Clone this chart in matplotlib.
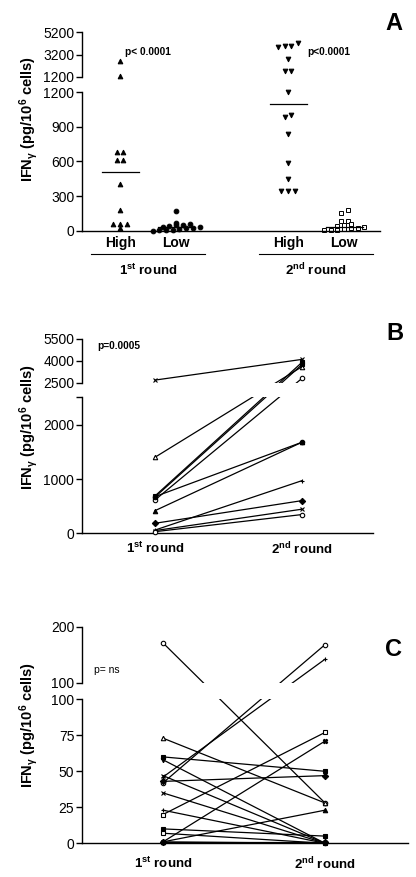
import matplotlib
matplotlib.use("Agg")
import matplotlib.pyplot as plt
import matplotlib.transforms as mtransforms
import numpy as np

plt.rcParams['font.family'] = ['Liberation Sans', 'DejaVu Sans']
plt.rcParams['mathtext.fontset'] = 'custom'
plt.rcParams['mathtext.rm'] = 'Liberation Sans:bold'
plt.rcParams['mathtext.it'] = 'Liberation Sans:bold:italic'
plt.rcParams['mathtext.default'] = 'rm'

# Panel A - IFNg (pg/10^6 cells), dot plot per group
high_1st = [2600, 1300, 680, 680, 610, 610, 400, 180, 58, 58, 58, 20]
low_1st = [170, 70, 60, 50, 45, 40, 35, 30, 25, 20, 15, 10, 5, 5, 0]
high_2nd = [4200, 4000, 3950, 3900, 2800, 1700, 1700, 1200, 1000, 980, 840, 590, 450, 345, 345, 345]
low_2nd = [175, 155, 85, 80, 60, 45, 40, 30, 25, 20, 15, 10, 10, 5]
groups_a = ['High', 'Low', 'High', 'Low']
rounds = ['1$^{st}$ round', '2$^{nd}$ round']

# Panel B - paired samples, 1st round -> 2nd round
b_1st = [2680, 1404, 690, 670, 616, 677, 418, 185, 60, 50, 30]
b_2nd = [4100, 3600, 3900, 3750, 2800, 1681, 1681, 603, 972, 445, 346]

# Panel C - paired samples, 1st round -> 2nd round
c_1st = [171, 46, 42, 43, 73, 60, 58, 47, 35, 23, 20, 1, 1, 10, 7, 1, 1]
c_2nd = [28, 142, 168, 47, 28, 50, 0, 0, 0, 0, 77, 71, 23, 5, 0, 0, 1]

# marker styles
a_marks = ['^', 'o', 'v', 's']
a_open = [False, False, False, True]
b_marks = ['x', '^', 's', 's', 'o', 'o', '^', 'D', '+', 'x', 'o']
b_open = [False, True, False, False, True, False, False, False, False, False, True]
c_marks = ['o', '+', 'o', 'D', '^', 's', 'v', 'x', 'x', '+', 's', 'X', '^', 's', 's', 'o', 'D']
c_open = [True, False, True, False, True, False, False, False, False, False, True,
          False, False, False, True, False, False]

W, H = 416, 877
fig = plt.figure(figsize=(W / 100, H / 100), dpi=100)


def box(x0, y0, x1, y1):
    return [x0 / W, 1 - y1 / H, (x1 - x0) / W, (y1 - y0) / H]


def ftext(x, y, s, **kw):
    fig.text(x / W, 1 - y / H, s, **kw)


def broken_axes(x0, x1, hi_px, lo_px, hi_lim, lo_lim, xlim):
    ax_hi = fig.add_axes(box(x0, hi_px[0], x1, hi_px[1]))
    ax_lo = fig.add_axes(box(x0, lo_px[0], x1, lo_px[1]))
    for ax in (ax_hi, ax_lo):
        ax.set_xlim(xlim)
        ax.patch.set_visible(False)
        ax.spines['top'].set_visible(False)
        ax.spines['right'].set_visible(False)
        ax.spines['left'].set_linewidth(1.0)
        ax.spines['bottom'].set_linewidth(1.0)
        ax.tick_params(axis='y', length=4, width=1.0, labelsize=10, pad=1.5)
        ax.tick_params(axis='x', length=0)
    ax_hi.spines['bottom'].set_visible(False)
    ax_hi.set_xticks([])
    ax_hi.set_ylim(hi_lim)
    ax_lo.set_ylim(lo_lim)
    return ax_hi, ax_lo


def spread(vals, ax_hi, ax_lo, brk, tol=3.5, step=0.12):
    # spread points that would overlap on screen, like a column scatter
    ys = np.array([(ax_hi if v > brk else ax_lo).transData.transform((0, v))[1] for v in vals])
    order = np.argsort(ys)
    offs = np.zeros(len(vals))
    grp = [order[0]]

    def flush(g):
        n = len(g)
        for i, idx in enumerate(g):
            offs[idx] = (i - (n - 1) / 2) * step

    for idx in order[1:]:
        if ys[idx] - ys[grp[0]] <= tol:
            grp.append(idx)
        else:
            flush(grp)
            grp = [idx]
    flush(grp)
    return offs


def paired(ax_hi, ax_lo, brk, first, second, marks, opens, ms=3.2):
    for v1, v2, m, op in zip(first, second, marks, opens):
        pts = []
        for x, v in ((1, v1), (2, v2)):
            ax = ax_hi if v > brk else ax_lo
            pts.append(ax.transData.transform((x, v)))
            ax.plot(x, v, marker=m, ms=ms, mfc='white' if op else 'black', mec='black',
                    mew=0.8, ls='none', clip_on=False, zorder=4)
        pts = np.array(pts)
        # straight on screen, cut by the gap between the two segments
        for ax in (ax_hi, ax_lo):
            xy = ax.transData.inverted().transform(pts)
            ax.plot(xy[:, 0], xy[:, 1], color='black', lw=0.9, clip_on=True, zorder=3)


ylab = 'IFN$_{γ}$ (pg/10$^{6}$ cells)'

# ---------------- A
xa = [1, 2, 4, 5]
a_hi, a_lo = broken_axes(82, 380, (32.3, 76.7), (92, 230.7), (1200, 5200), (0, 1200), (0.32, 5.64))
a_hi.set_yticks([1200, 3200, 5200])
a_lo.set_yticks([0, 300, 600, 900, 1200])
for x, vals, m, op in zip(xa, [high_1st, low_1st, high_2nd, low_2nd], a_marks, a_open):
    offs = spread(vals, a_hi, a_lo, 1200)
    for v, dx in zip(vals, offs):
        ax = a_hi if v > 1200 else a_lo
        ax.plot(x + dx, v, marker=m, ms=3.4, mfc='white' if op else 'black', mec='black',
                mew=0.7, ls='none', clip_on=False)
    med = np.median(vals)
    ax = a_hi if med > 1200 else a_lo
    ax.plot([x - 0.33, x + 0.33], [med, med], color='black', lw=0.9)

a_lo.set_xticks(xa, groups_a, fontweight='bold', fontsize=10)
a_lo.tick_params(axis='x', pad=4)
trans = mtransforms.blended_transform_factory(a_lo.transData, a_lo.transAxes)
line_tr = mtransforms.offset_copy(trans, fig=fig, y=-23.5, units='dots')
for (c1, c2), lab in zip([(1, 2), (4, 5)], rounds):
    a_lo.plot([c1 - 0.52, c2 + 0.52], [0, 0], transform=line_tr, color='black', lw=0.8, clip_on=False)
    a_lo.annotate(lab, xy=((c1 + c2) / 2, 0), xycoords=trans, xytext=(0, -39.5),
                  textcoords='offset pixels', ha='center', va='center', fontweight='bold', fontsize=9.5)

ftext(125, 52, 'p< 0.0001', fontsize=7.3, fontweight='bold', va='center')
ftext(307, 52, 'p<0.0001', fontsize=7.3, fontweight='bold', va='center')
ftext(394, 24, 'A', fontsize=17, fontweight='bold', ha='center', va='center')
ftext(29, 119, ylab, rotation=90, fontsize=10.5, fontweight='bold', ha='center', va='center')

# ---------------- B
b_hi, b_lo = broken_axes(82, 373, (339, 382.7), (397.3, 533.3), (2500, 5500), (0, 2510), (0.503, 2.483))
b_hi.set_yticks([2500, 4000, 5500])
b_lo.set_yticks([0, 1000, 2000, 2510], ['0', '1000', '2000', ''])
paired(b_hi, b_lo, 2500, b_1st, b_2nd, b_marks, b_open)
b_lo.set_xticks([1, 2], rounds, fontweight='bold', fontsize=9.5)
b_lo.tick_params(axis='x', pad=5.5)

ftext(97, 346, 'p=0.0005', fontsize=7.3, fontweight='bold', va='center')
ftext(395, 333, 'B', fontsize=17, fontweight='bold', ha='center', va='center')
ftext(29, 427, ylab, rotation=90, fontsize=10.5, fontweight='bold', ha='center', va='center')

# ---------------- C
c_hi, c_lo = broken_axes(82, 408, (626.7, 682.7), (699.3, 843.3), (100, 200), (0, 100), (0.5, 2.512))
c_hi.set_yticks([100, 200])
c_lo.set_yticks([0, 25, 50, 75, 100])
paired(c_hi, c_lo, 100, c_1st, c_2nd, c_marks, c_open)
c_lo.set_xticks([1, 2], rounds, fontweight='bold', fontsize=9.5)
c_lo.tick_params(axis='x', pad=9)

ftext(94, 670, 'p= ns', fontsize=7.5, va='center')
ftext(394, 650, 'C', fontsize=17, fontweight='bold', ha='center', va='center')
ftext(29, 725, ylab, rotation=90, fontsize=10.5, fontweight='bold', ha='center', va='center')

fig.savefig('out.png', dpi=100)
